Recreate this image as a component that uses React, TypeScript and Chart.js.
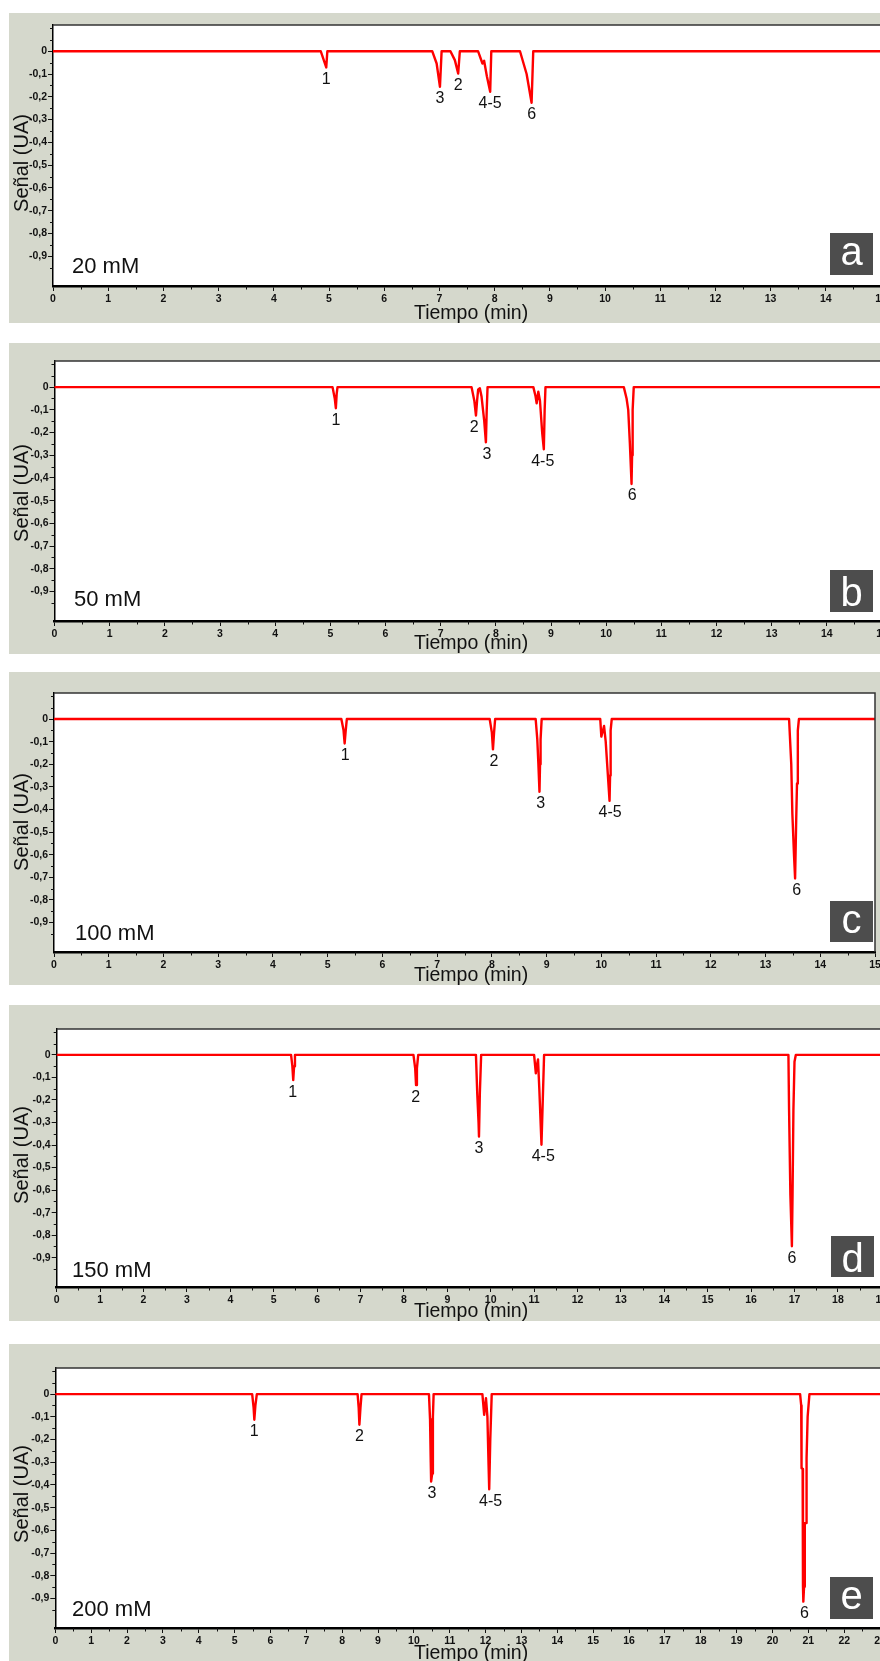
import React, { useEffect, useRef } from "react";
import { Chart, registerables } from "chart.js";

Chart.register(...registerables);

const FONT = "'Liberation Sans', Arial, Helvetica, sans-serif";
const GRAY = "#d5d8cc";
const RED = "#ff0000";
const INK = "#111111";
const GRAY_LEFT = 9;

// ---------- data ----------
const timesA = [0, 4.85, 4.95, 4.97, 6.87, 6.95, 7.01, 7.04, 7.2, 7.28, 7.34, 7.37, 7.7, 7.78, 7.81, 7.86, 7.92, 7.94, 8.46, 8.58, 8.67, 8.7, 15];
const signalA = [0, 0, -0.071, 0, 0, -0.054, -0.156, 0, 0, -0.039, -0.098, 0, 0, -0.054, -0.042, -0.11, -0.178, 0, 0, -0.1, -0.226, 0, 0];
const peakNamesA = ["1", "3", "2", "4-5", "6"];
const peakTimesA = [4.95, 7.01, 7.34, 7.92, 8.67];
const peakValuesA = [-0.071, -0.156, -0.098, -0.178, -0.226];

const timesB = [0, 5.04, 5.08, 5.1, 5.115, 5.13, 7.56, 7.61, 7.64, 7.66, 7.68, 7.71, 7.74, 7.79, 7.82, 7.835, 7.85, 8.68, 8.72, 8.74, 8.77, 8.8, 8.84, 8.87, 8.885, 8.9, 10.32, 10.37, 10.4, 10.43, 10.46, 10.47, 10.48, 10.5, 15];
const signalB = [0, 0, -0.05, -0.093, -0.03, 0, 0, -0.06, -0.125, -0.06, -0.01, -0.005, -0.04, -0.15, -0.243, -0.1, 0, 0, -0.04, -0.071, -0.02, -0.06, -0.2, -0.274, -0.1, 0, 0, -0.05, -0.1, -0.25, -0.427, -0.3, -0.1, 0, 0];
const peakNamesB = ["1", "2", "3", "4-5", "6"];
const peakTimesB = [5.1, 7.61, 7.84, 8.85, 10.47];
const peakValuesB = [-0.093, -0.125, -0.243, -0.274, -0.427];

const timesC = [0, 5.25, 5.29, 5.31, 5.33, 5.35, 7.96, 8.0, 8.02, 8.04, 8.06, 8.8, 8.83, 8.85, 8.87, 8.88, 8.89, 8.91, 9.98, 10.0, 10.03, 10.05, 10.08, 10.12, 10.15, 10.16, 10.17, 10.19, 13.43, 13.47, 13.49, 13.52, 13.54, 13.56, 13.575, 13.59, 13.61, 15];
const signalC = [0, 0, -0.05, -0.108, -0.05, 0, 0, -0.06, -0.134, -0.06, 0, 0, -0.09, -0.2, -0.322, -0.2, -0.09, 0, 0, -0.078, -0.05, -0.031, -0.1, -0.25, -0.362, -0.25, -0.05, 0, 0, -0.2, -0.418, -0.6, -0.705, -0.45, -0.285, -0.05, 0, 0];
const peakNamesC = ["1", "2", "3", "4-5", "6"];
const peakTimesC = [5.32, 8.04, 8.89, 10.16, 13.57];
const peakValuesC = [-0.108, -0.134, -0.322, -0.362, -0.705];

const timesD = [0, 5.4, 5.43, 5.45, 5.47, 5.49, 8.22, 8.26, 8.28, 8.3, 8.33, 9.66, 9.69, 9.72, 9.73, 9.75, 9.78, 11.0, 11.04, 11.07, 11.09, 11.12, 11.17, 11.2, 11.23, 16.86, 16.875, 16.905, 16.94, 16.955, 16.975, 17.0, 17.03, 20];
const signalD = [0, 0, -0.05, -0.112, -0.05, 0, 0, -0.06, -0.134, -0.06, 0, 0, -0.171, -0.3, -0.362, -0.171, 0, 0, -0.082, -0.04, -0.02, -0.15, -0.399, -0.2, 0, 0, -0.245, -0.62, -0.849, -0.62, -0.245, -0.03, 0, 0];
const peakNamesD = ["1", "2", "3", "4-5", "6"];
const peakTimesD = [5.44, 8.27, 9.73, 11.21, 16.94];
const peakValuesD = [-0.112, -0.134, -0.362, -0.399, -0.849];

const timesE = [0, 5.49, 5.53, 5.55, 5.58, 5.62, 8.43, 8.46, 8.48, 8.51, 8.54, 10.42, 10.45, 10.47, 10.48, 10.51, 10.53, 10.55, 11.91, 11.96, 12.01, 12.05, 12.08, 12.1, 12.13, 12.17, 20.77, 20.8, 20.81, 20.84, 20.85, 20.86, 20.88, 20.9, 20.94, 20.95, 20.98, 21.03, 25];
const signalE = [0, 0, -0.06, -0.113, -0.05, 0, 0, -0.06, -0.135, -0.06, 0, 0, -0.11, -0.3, -0.385, -0.35, -0.1, 0, 0, -0.091, -0.018, -0.1, -0.3, -0.419, -0.2, 0, 0, -0.05, -0.326, -0.33, -0.848, -0.914, -0.848, -0.568, -0.568, -0.282, -0.099, 0, 0];
const peakNamesE = ["1", "2", "3", "4-5", "6"];
const peakTimesE = [5.55, 8.48, 10.5, 12.14, 20.89];
const peakValuesE = [-0.113, -0.135, -0.385, -0.419, -0.914];

const yTickValues = [0, -0.1, -0.2, -0.3, -0.4, -0.5, -0.6, -0.7, -0.8, -0.9];
const yTickLabels = ["0", "-0,1", "-0,2", "-0,3", "-0,4", "-0,5", "-0,6", "-0,7", "-0,8", "-0,9"];
const xMaxes = [15, 15, 15, 20, 25];
const concentrations = ["20 mM", "50 mM", "100 mM", "150 mM", "200 mM"];
const panelLetters = ["a", "b", "c", "d", "e"];
const xTitle = "Tiempo (min)";
const yTitle = "Señal (UA)";
const Y_MIN = -1.03;
const Y_MAX = 0.115;

const seriesTimes = [timesA, timesB, timesC, timesD, timesE];
const seriesSignals = [signalA, signalB, signalC, signalD, signalE];
const peakNames = [peakNamesA, peakNamesB, peakNamesC, peakNamesD, peakNamesE];
const peakTimes = [peakTimesA, peakTimesB, peakTimesC, peakTimesD, peakTimesE];
const peakValues = [peakValuesA, peakValuesB, peakValuesC, peakValuesD, peakValuesE];

// ---------- layout (page pixels) ----------
const LAYOUTS = [
  { grayTop: 13, grayBottom: 323, plotLeft: 53, plotTop: 25, plotBottom: 286, plotRight: 881, xTitleBase: 319, concX: 72, concBase: 273, box: [830, 233, 43, 42] },
  { grayTop: 343, grayBottom: 654, plotLeft: 54.5, plotTop: 361, plotBottom: 621, plotRight: 882, xTitleBase: 649, concX: 74, concBase: 606, box: [830, 570, 43, 42] },
  { grayTop: 672, grayBottom: 985, plotLeft: 54, plotTop: 693, plotBottom: 952, plotRight: 875, xTitleBase: 980.5, concX: 75, concBase: 940, box: [830, 901, 43, 41] },
  { grayTop: 1005, grayBottom: 1321, plotLeft: 56.7, plotTop: 1029, plotBottom: 1287, plotRight: 924.7, xTitleBase: 1317, concX: 72, concBase: 1277, box: [831, 1236, 43, 41] },
  { grayTop: 1344, grayBottom: 1680, plotLeft: 55.3, plotTop: 1368, plotBottom: 1628, plotRight: 951.8, xTitleBase: 1659, concX: 72, concBase: 1616, box: [830, 1577, 43, 42] },
];

function Panel({ index }: { index: number }) {
  const ref = useRef<HTMLCanvasElement | null>(null);
  const L = LAYOUTS[index];
  const canvasW = Math.ceil(L.plotRight - GRAY_LEFT + 25);
  const canvasH = L.grayBottom - L.grayTop;

  useEffect(() => {
    const canvas = ref.current;
    if (!canvas) return;
    const times = seriesTimes[index];
    const signal = seriesSignals[index];
    const xMax = xMaxes[index];
    const toCx = (px: number) => px - GRAY_LEFT;
    const toCy = (py: number) => py - L.grayTop;

    const decor = {
      id: "decor" + index,
      beforeDraw(chart: any) {
        const ctx = chart.ctx;
        const { left, top, right, bottom } = chart.chartArea;
        ctx.save();
        ctx.fillStyle = GRAY;
        ctx.fillRect(0, 0, chart.width, chart.height);
        ctx.fillStyle = "#ffffff";
        ctx.fillRect(left, top, right - left, bottom - top);
        ctx.restore();
      },
      afterDraw(chart: any) {
        const ctx = chart.ctx;
        const { left, top, right, bottom } = chart.chartArea;
        const xs = chart.scales.x;
        const ys = chart.scales.y;
        ctx.save();
        // top and right frame
        ctx.strokeStyle = "#333333";
        ctx.lineWidth = 1.5;
        ctx.beginPath();
        ctx.moveTo(left, top);
        ctx.lineTo(right, top);
        ctx.lineTo(right, bottom);
        ctx.stroke();
        // minor ticks
        ctx.strokeStyle = "#111111";
        ctx.lineWidth = 1;
        ctx.beginPath();
        for (let t = 0.5; t < xMax; t += 1) {
          const px = Math.round(xs.getPixelForValue(t)) + 0.5;
          ctx.moveTo(px, bottom);
          ctx.lineTo(px, bottom + 3.5);
        }
        for (let k = 2; k >= -19; k--) {
          if (k % 2 === 0 && k <= 0 && k >= -18) continue;
          const v = k * 0.05;
          const py = Math.round(ys.getPixelForValue(v)) + 0.5;
          ctx.moveTo(left - 3, py);
          ctx.lineTo(left, py);
        }
        ctx.stroke();

        // peak labels
        ctx.fillStyle = "#111111";
        ctx.font = `16px ${FONT}`;
        ctx.textAlign = "center";
        ctx.textBaseline = "middle";
        const names = peakNames[index];
        names.forEach((n, i) => {
          const px = xs.getPixelForValue(peakTimes[index][i]);
          const py = ys.getPixelForValue(peakValues[index][i]);
          ctx.fillText(n, px, py + 12);
        });

        // concentration
        ctx.font = `22px ${FONT}`;
        ctx.textAlign = "left";
        ctx.textBaseline = "alphabetic";
        ctx.fillText(concentrations[index], toCx(L.concX), toCy(L.concBase));

        // letter box
        const [bx, by, bw, bh] = L.box;
        ctx.fillStyle = "#4d4d4d";
        ctx.fillRect(toCx(bx), toCy(by), bw, bh);
        ctx.fillStyle = "#ffffff";
        ctx.font = `40px ${FONT}`;
        ctx.textAlign = "center";
        ctx.textBaseline = "alphabetic";
        const letter = panelLetters[index];
        const m = ctx.measureText(letter);
        const cy = toCy(by) + bh / 2 + (m.actualBoundingBoxAscent - m.actualBoundingBoxDescent) / 2;
        ctx.fillText(letter, toCx(bx) + bw / 2, cy);

        // axis titles
        ctx.fillStyle = "#111111";
        ctx.font = `19.5px ${FONT}`;
        ctx.textAlign = "left";
        ctx.textBaseline = "alphabetic";
        ctx.fillText(xTitle, toCx(414), toCy(L.xTitleBase));

        ctx.save();
        ctx.translate(toCx(22), 150);
        ctx.rotate(-Math.PI / 2);
        ctx.font = `20px ${FONT}`;
        ctx.textAlign = "center";
        ctx.textBaseline = "middle";
        ctx.fillText(yTitle, 0, 0);
        ctx.restore();

        ctx.restore();
      },
    };

    const chart = new Chart(canvas, {
      type: "line",
      data: {
        datasets: [
          {
            data: times.map((t, i) => ({ x: t, y: signal[i] })),
            borderColor: RED,
            borderWidth: 2.4,
            borderJoinStyle: "round",
            borderCapStyle: "round",
            pointRadius: 0,
            tension: 0,
            fill: false,
          },
        ],
      },
      options: {
        animation: false,
        responsive: false,
        devicePixelRatio: 1,
        layout: {
          padding: {
            left: 0,
            top: L.plotTop - L.grayTop,
            right: canvasW - (L.plotRight - GRAY_LEFT),
            bottom: 0,
          },
        },
        plugins: {
          legend: { display: false },
          tooltip: { enabled: false },
          title: { display: false },
        },
        scales: {
          x: {
            type: "linear",
            min: 0,
            max: xMax,
            afterFit: (s: any) => {
              s.height = L.grayBottom - L.plotBottom;
            },
            ticks: {
              stepSize: 1,
              autoSkip: false,
              maxRotation: 0,
              padding: 2,
              color: INK,
              font: { family: FONT, size: 10.5, weight: "bold" },
              callback: (v: any) => String(v),
            },
            grid: { drawOnChartArea: false, drawTicks: true, tickLength: 5, color: "#111111", lineWidth: 1 },
            border: { display: true, color: "#000000", width: 2.5 },
          },
          y: {
            type: "linear",
            min: Y_MIN,
            max: Y_MAX,
            afterFit: (s: any) => {
              s.width = L.plotLeft - GRAY_LEFT;
            },
            afterBuildTicks: (s: any) => {
              s.ticks = yTickValues.map((v) => ({ value: v }));
            },
            ticks: {
              padding: 1,
              color: INK,
              font: { family: FONT, size: 10.5, weight: "bold" },
              callback: (_v: any, i: number) => yTickLabels[i],
            },
            grid: { drawOnChartArea: false, drawTicks: true, tickLength: 5, color: "#111111", lineWidth: 1 },
            border: { display: true, color: "#000000", width: 1.5 },
          },
        },
      },
      plugins: [decor],
    } as any);

    return () => chart.destroy();
  }, [index]);

  return (
    <canvas
      ref={ref}
      width={canvasW}
      height={canvasH}
      style={{ position: "absolute", left: GRAY_LEFT, top: L.grayTop, width: canvasW, height: canvasH }}
    />
  );
}

export default function App() {
  return (
    <div
      style={{
        position: "fixed",
        left: 0,
        top: 0,
        width: 880,
        height: 1661,
        overflow: "hidden",
        background: "#ffffff",
      }}
    >
      {LAYOUTS.map((_, i) => (
        <Panel key={i} index={i} />
      ))}
    </div>
  );
}
